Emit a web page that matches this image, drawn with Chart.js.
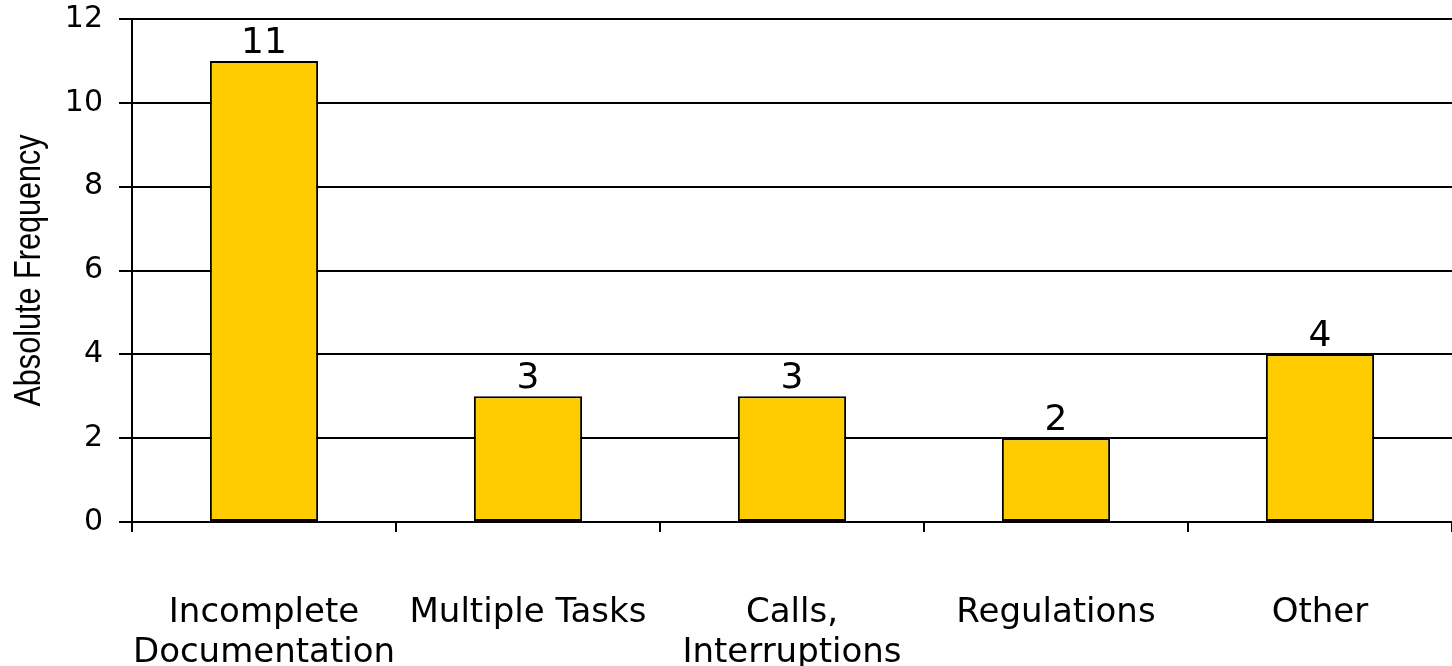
<!DOCTYPE html>
<html>
<head>
<meta charset="utf-8">
<script src="https://cdn.jsdelivr.net/npm/chart.js@4.4.1/dist/chart.umd.min.js"></script>
<style>
    html, body { margin: 0; padding: 0; background: #fff; }
    #wrap { width: 1452px; height: 666px; }
</style>
</head>
<body>
<div id="wrap"><canvas id="chart"></canvas></div>
<script>
const categories = [
    ["Incomplete", "Documentation"],
    "Multiple Tasks",
    ["Calls,", "Interruptions"],
    "Regulations",
    "Other",
];
const frequencies = [11, 3, 3, 2, 4];
const yTicks = [0, 2, 4, 6, 8, 10, 12];
const yTitle = "Absolute Frequency";

// numbers on top of each bar
const valueLabels = {
    id: "valueLabels",
    afterDatasetsDraw(chart) {
        const ctx = chart.ctx;
        const meta = chart.getDatasetMeta(0);
        ctx.save();
        ctx.font = "36px 'DejaVu Sans', Verdana, sans-serif";
        ctx.fillStyle = "#000";
        ctx.textAlign = "center";
        ctx.textBaseline = "alphabetic";
        meta.data.forEach((bar, i) => {
            ctx.fillText(String(frequencies[i]), bar.x, bar.y - 8);
        });
        ctx.restore();
    },
};

// narrow rotated axis title (no narrow font installed, so squeeze it)
const narrowTitle = {
    id: "narrowTitle",
    afterDraw(chart) {
        const ctx = chart.ctx;
        const area = chart.chartArea;
        ctx.save();
        ctx.translate(30, (area.top + area.bottom) / 2);
        ctx.rotate(-Math.PI / 2);
        ctx.scale(0.85, 1);
        ctx.font = "36px 'Liberation Sans', Arial, sans-serif";
        ctx.fillStyle = "#000";
        ctx.textAlign = "center";
        ctx.textBaseline = "middle";
        ctx.fillText(yTitle, 0, 0);
        ctx.restore();
    },
};

new Chart(document.getElementById("chart"), {
    type: "bar",
    data: {
        labels: categories,
        datasets: [
            {
                label: yTitle,
                data: frequencies,
                backgroundColor: "#FFCC00",
                borderColor: "#000",
                borderWidth: 2,
                borderSkipped: false,
                categoryPercentage: 1,
                barPercentage: 0.41,
            },
        ],
    },
    options: {
        responsive: true,
        maintainAspectRatio: false,
        animation: false,
        layout: {
            padding: { top: 19, right: 0, left: 0, bottom: 0 },
        },
        plugins: {
            legend: { display: false },
            tooltip: { enabled: false },
        },
        scales: {
            x: {
                offset: true,
                afterFit(axis) {
                    axis.height = 144;
                    axis.paddingLeft = 0;
                    axis.paddingRight = 0;
                },
                grid: {
                    display: true,
                    drawOnChartArea: false,
                    offset: true,
                    color: "#000",
                    lineWidth: 2,
                    tickLength: 10,
                },
                border: { display: true, color: "#000", width: 2 },
                ticks: {
                    color: "#000",
                    padding: 61,
                    maxRotation: 0,
                    autoSkip: false,
                    font: { family: "'DejaVu Sans', Verdana, sans-serif", size: 34, lineHeight: 1.18 },
                },
            },
            y: {
                min: 0,
                max: 12,
                afterBuildTicks(axis) {
                    axis.ticks = yTicks.map(v => ({ value: v }));
                },
                afterFit(axis) {
                    axis.width = 132;
                    axis.paddingTop = 0;
                    axis.paddingBottom = 0;
                },
                grid: {
                    color: "#000",
                    lineWidth: 2,
                    tickLength: 13,
                },
                border: { display: true, color: "#000", width: 2 },
                ticks: {
                    color: "#000",
                    padding: 16,
                    font: { family: "'DejaVu Sans', Verdana, sans-serif", size: 30 },
                },
            },
        },
    },
    plugins: [valueLabels, narrowTitle],
});
</script>
</body>
</html>
